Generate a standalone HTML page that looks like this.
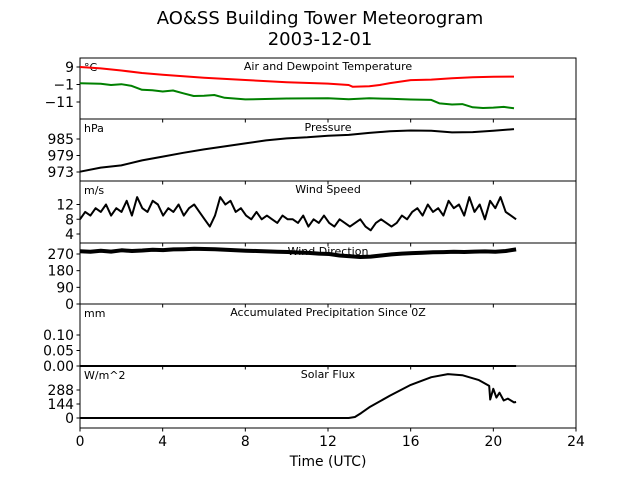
<!DOCTYPE html>
<html><head><meta charset="utf-8"><style>
body{margin:0;background:#fff}
svg{font-family:"DejaVu Sans","Liberation Sans",sans-serif}
</style></head><body>
<svg id="c" width="640" height="480" viewBox="0 0 640 480">
<text x="320" y="24" font-size="18" text-anchor="middle">AO&amp;SS Building Tower Meteorogram</text>
<text x="320" y="45" font-size="18" text-anchor="middle">2003-12-01</text>
<text x="328" y="466" font-size="13.9" text-anchor="middle">Time (UTC)</text>
<g id="g"></g>
</svg>
<script>
// ---- data ----
const xTicks=[0,4,8,12,16,20,24];
const tempT=[0,1,2,3,4,6,8,10,12,13,13.2,14,14.5,15,16,17,18,19,20,21];
const tempV=[9,8.2,7,5.6,4.6,2.9,1.6,0.3,-0.5,-1.3,-2.3,-2,-1.3,-0.2,1.5,1.8,2.6,3.2,3.4,3.5];
const dewT=[0,1,1.5,2,2.5,3,3.5,4,4.5,5,5.5,6,6.5,7,8,10,12,13,14,15,16,17,17.4,18,18.5,19,19.5,20,20.5,21];
const dewV=[-0.3,-0.6,-1.3,-0.8,-1.8,-4,-4.3,-5,-4.4,-6,-7.6,-7.4,-7,-8.6,-9.5,-9,-8.8,-9.4,-8.9,-9.2,-9.6,-9.8,-11.8,-12.4,-12.2,-14,-14.4,-14.2,-13.8,-14.6];
const presT=[0,1,2,3,4,5,6,7,8,9,10,11,12,13,14,15,16,17,18,19,20,21];
const presV=[973.1,974.6,975.4,977.2,978.6,980,981.2,982.3,983.4,984.5,985.2,985.6,986.2,986.5,987.2,987.8,988.1,988.0,987.4,987.5,988.0,988.6];
const windSpd=[8,10,9,11,10,12,9,11,10,13,9,14,11,10,13,12,9,11,10,12,9,11,12,10,8,6,9,14,12,13,10,11,9,8,10,8,9,8,7,9,8,8,7,9,6,8,7,9,7,6,8,7,6,7,8,6,5,7,8,7,6,7,9,8,10,11,9,12,10,11,9,13,11,12,9,14,10,12,8,13,11,14,10,9,8];
const windDir=[285,282,288,283,290,286,289,293,291,295,296,298,297,296,293,290,288,286,284,282,281,278,276,272,270,262,258,254,256,262,268,272,275,277,279,280,282,281,283,284,282,286,295];
const precipT=[0,21.1];
const precipV=[0,0];
const solarT=[0,13,13.3,13.6,14,15,16,17,17.8,18.5,19.3,19.8,19.85,20,20.15,20.3,20.5,20.7,21,21.1];
const solarV=[0,0,10,50,110,230,340,420,452,440,390,330,190,300,210,260,180,200,160,165];
// ---- layout ----
const NS='http://www.w3.org/2000/svg', g=document.getElementById('g');
const X0=80,X1=576; const x=t=>X0+(t-0)*(X1-X0)/24;
function mk(tag,attrs,txt){const e=document.createElementNS(NS,tag);for(const k in attrs)e.setAttribute(k,attrs[k]);if(txt!==undefined)e.textContent=txt;g.appendChild(e);return e;}
const panels=[
 {name:'temperature',top:58,bot:119,v1:9,p1:67,v2:-11,p2:102,ticks:[9,-1,-11],lab:['9','\u22121','\u221211'],unit:'\u00b0C',title:'Air and Dewpoint Temperature'},
 {name:'pressure',top:119,bot:181,v1:985,p1:139,v2:973,p2:172,ticks:[985,979,973],lab:['985','979','973'],unit:'hPa',title:'Pressure'},
 {name:'wind-speed',top:181,bot:243,v1:12,p1:204.5,v2:4,p2:234,ticks:[12,8,4],lab:['12','8','4'],unit:'m/s',title:'Wind Speed'},
 {name:'wind-direction',top:243,bot:304,v1:0,p1:304,v2:270,p2:254,ticks:[270,180,90,0],lab:['270','180','90','0'],unit:'',title:'Wind Direction'},
 {name:'precipitation',top:304,bot:366,v1:0,p1:366,v2:0.1,p2:335,ticks:[0.1,0.05,0],lab:['0.10','0.05','0.00'],unit:'mm',title:'Accumulated Precipitation Since 0Z'},
 {name:'solar-flux',top:366,bot:428,v1:0,p1:418,v2:288,p2:390,ticks:[288,144,0],lab:['288','144','0'],unit:'W/m^2',title:'Solar Flux'}
];
panels.forEach(p=>{p.y=v=>p.p1+(v-p.v1)*(p.p2-p.p1)/(p.v2-p.v1);});
function line(p,ts,vs,color,w,name){
  const d=ts.map((t,i)=>(i?'L':'M')+x(t).toFixed(1)+','+p.y(vs[i]).toFixed(1)).join('');
  const e=mk('path',{d:d,fill:'none',stroke:color,'stroke-width':w,'stroke-linejoin':'round'});
  
  
}
panels.forEach((p,pi)=>{
  const r=mk('rect',{x:X0,y:p.top,width:X1-X0,height:p.bot-p.top,fill:'none',stroke:'#000','stroke-width':1});
  
  
  p.ticks.forEach((v,i)=>{
    const yy=p.y(v);
    mk('line',{x1:X0-3.5,x2:X0,y1:yy,y2:yy,stroke:'#000'});
    const t=mk('text',{x:X0-6,y:yy+5,'font-size':13.9,'text-anchor':'end'},p.lab[i]);
    
    
  });
  xTicks.forEach(v=>{mk('line',{x1:x(v),x2:x(v),y1:p.bot,y2:p.bot+3.5,stroke:'#000'});});
  if(p.unit){const u=mk('text',{x:84,y:p.top+13,'font-size':11},p.unit);
    
    }
  const tt=mk('text',{x:328,y:p.top+12,'font-size':11,'text-anchor':'middle'},p.title);
  
  
});
xTicks.forEach(v=>{
  const t=mk('text',{x:x(v),y:446,'font-size':13.9,'text-anchor':'middle'},String(v));
  
  
});
line(panels[0],tempT,tempV,'#ff0000',2,'air-temperature-line');
line(panels[0],dewT,dewV,'#008000',2,'dewpoint-line');
line(panels[1],presT,presV,'#000',2,'pressure-line');
line(panels[2],windSpd.map((v,i)=>i*21.1/(windSpd.length-1)),windSpd,'#000',2,'wind-speed-line');
line(panels[3],windDir.map((v,i)=>i*21.1/(windDir.length-1)),windDir,'#000',4,'wind-direction-line');
line(panels[4],precipT,precipV,'#000',2,'precipitation-line');
line(panels[5],solarT,solarV,'#000',2,'solar-flux-line');
</script>
</body></html>
